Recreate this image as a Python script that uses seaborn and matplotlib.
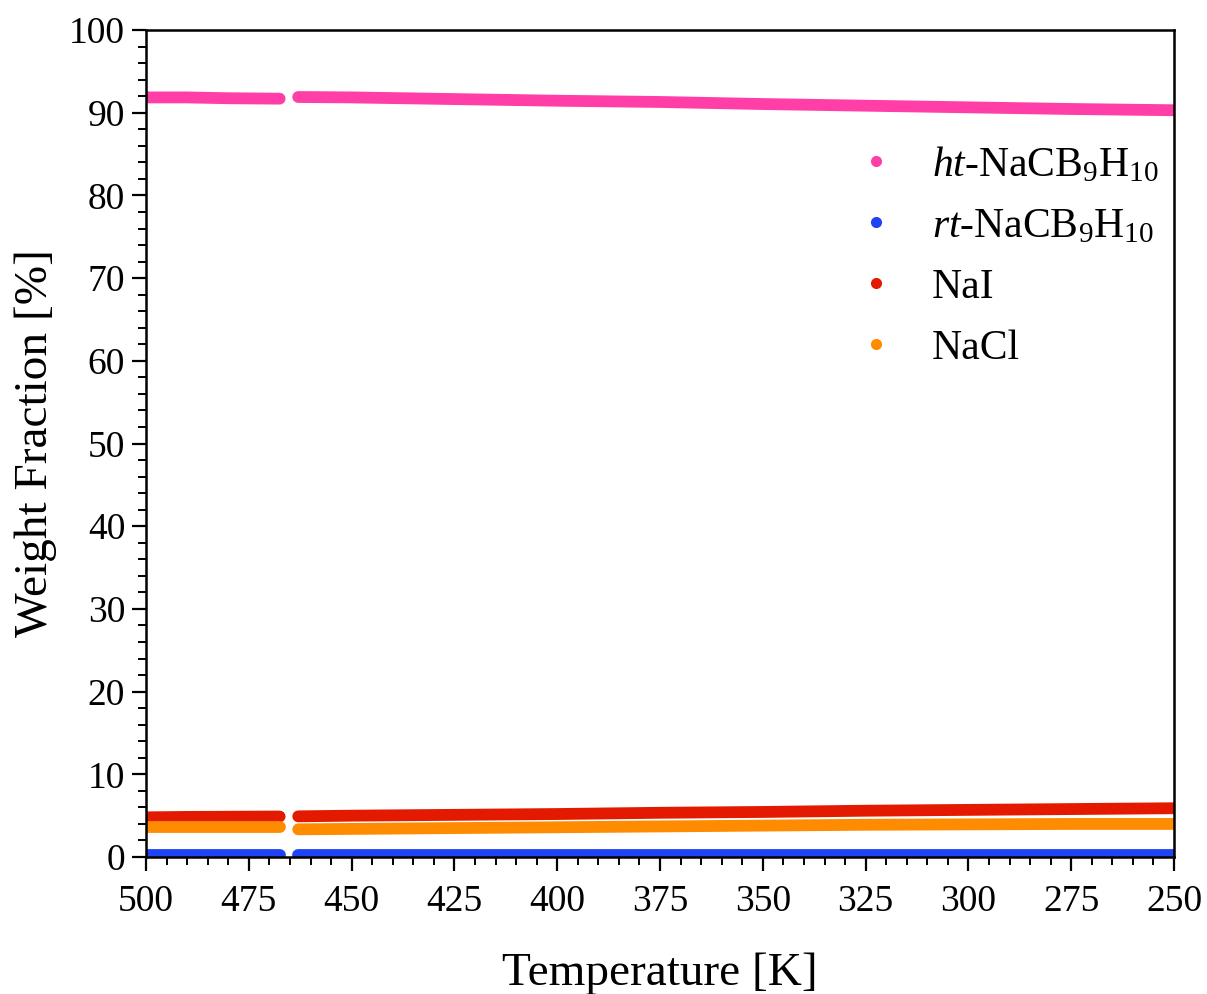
import numpy as np
import pandas as pd
import matplotlib
matplotlib.use("Agg")
import matplotlib.pyplot as plt
from matplotlib.lines import Line2D
from matplotlib.ticker import MultipleLocator
import seaborn as sns

# ---- data ----
temperature = [500, 490, 480, 467.5, 463, 450, 425, 400, 375, 350, 325, 300, 275, 250]
segment = [1, 1, 1, 1, 2, 2, 2, 2, 2, 2, 2, 2, 2, 2]
ht_nacb9h10 = [91.85, 91.85, 91.75, 91.7, 91.9, 91.85, 91.65, 91.45, 91.3, 91.05, 90.85, 90.65, 90.45, 90.3]
rt_nacb9h10 = [0.25, 0.25, 0.25, 0.25, 0.25, 0.25, 0.25, 0.25, 0.25, 0.25, 0.25, 0.25, 0.25, 0.25]
nai = [4.8, 4.85, 4.87, 4.9, 4.92, 5.0, 5.1, 5.2, 5.35, 5.45, 5.6, 5.7, 5.8, 5.9]
nacl = [3.6, 3.6, 3.6, 3.6, 3.35, 3.4, 3.5, 3.6, 3.7, 3.8, 3.9, 3.95, 4.0, 4.0]

series_names = ["ht", "rt", "NaI", "NaCl"]
series_labels = [r"$\it{ht}$-NaCB$_9$H$_{10}$", r"$\it{rt}$-NaCB$_9$H$_{10}$", "NaI", "NaCl"]
colors = ["#FF3EA8", "#1E44F5", "#E31A00", "#FF8C00"]

frames = []
for name, vals in zip(series_names, [ht_nacb9h10, rt_nacb9h10, nai, nacl]):
    frames.append(pd.DataFrame({"T": temperature, "seg": segment, "wf": vals, "phase": name}))
df = pd.concat(frames, ignore_index=True)

# ---- style ----
sns.set_theme(style="white")
plt.rcParams["font.family"] = ["Liberation Serif", "DejaVu Serif"]
plt.rcParams["mathtext.fontset"] = "custom"
plt.rcParams["mathtext.rm"] = "Liberation Serif"
plt.rcParams["mathtext.it"] = "Liberation Serif:italic"
plt.rcParams["mathtext.bf"] = "Liberation Serif:bold"
plt.rcParams["text.color"] = "black"
plt.rcParams["axes.labelcolor"] = "black"
plt.rcParams["xtick.color"] = "black"
plt.rcParams["ytick.color"] = "black"

fig = plt.figure(figsize=(12.07, 9.94), dpi=100)
ax = fig.add_axes([0.121, 0.1378, 0.8517, 0.832])

sns.lineplot(data=df, x="T", y="wf", hue="phase", units="seg", estimator=None,
             palette=dict(zip(series_names, colors)), hue_order=series_names,
             linewidth=8.5, solid_capstyle="round", legend=False, ax=ax, sort=False)

ax.set_xlim(500, 250)
ax.set_ylim(0, 100)
ax.xaxis.set_major_locator(MultipleLocator(25))
ax.xaxis.set_minor_locator(MultipleLocator(5))
ax.yaxis.set_major_locator(MultipleLocator(10))
ax.yaxis.set_minor_locator(MultipleLocator(2))
ax.tick_params(which="major", direction="out", length=10, width=1.6, labelsize=27,
               bottom=True, left=True, top=False, right=False, colors="black")
ax.tick_params(axis="x", which="major", pad=10)
ax.tick_params(axis="y", which="major", pad=5)
ax.tick_params(which="minor", direction="out", length=6, width=1.4,
               bottom=True, left=True, top=False, right=False, colors="black")
for s in ax.spines.values():
    s.set_color("black")
    s.set_linewidth(1.8)

ax.set_xlabel("Temperature [K]", fontsize=34, labelpad=24)
ax.set_ylabel("Weight Fraction [%]", fontsize=34, labelpad=9)

handles = [Line2D([], [], linestyle="none", marker="o", markersize=7, color=c) for c in colors]
ax.legend(handles, series_labels, loc="upper left", bbox_to_anchor=(0.653, 0.906),
          frameon=False, fontsize=30, handletextpad=0.85, labelspacing=0.54,
          handlelength=1.0)

fig.savefig("out.png", dpi=100)
